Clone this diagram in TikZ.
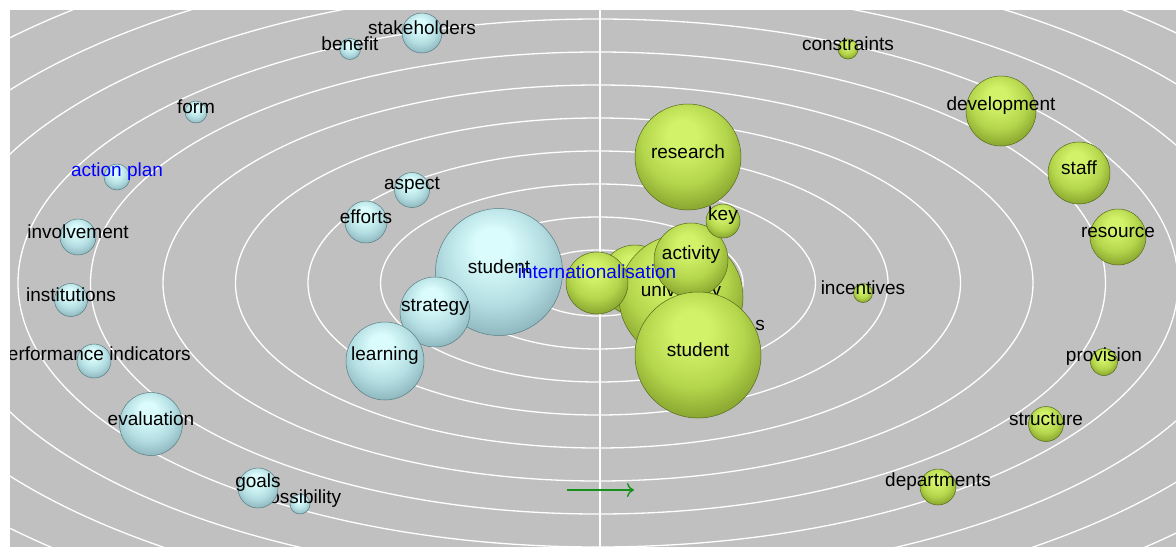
\documentclass[tikz,border=0pt]{standalone}
\usepackage{fontspec}
\newfontfamily\wordfont{Liberation Sans}
\usetikzlibrary{arrows.meta}

\definecolor{panelgray}{HTML}{C0C0C0}
\definecolor{bluehi}{HTML}{DAFCFC}
\definecolor{bluemid}{HTML}{B4DEE2}
\definecolor{bluelo}{HTML}{8AB4BA}
\definecolor{bluerim}{HTML}{587E84}
\definecolor{greenhi}{HTML}{D2F26A}
\definecolor{greenmid}{HTML}{B4D64C}
\definecolor{greenlo}{HTML}{84A02C}
\definecolor{greenrim}{HTML}{566A1E}
\definecolor{arrowgreen}{HTML}{16901C}

\pgfdeclareradialshading{bluesphere}{\pgfpoint{-3bp}{12bp}}{%
  color(0bp)=(bluehi); color(7bp)=(bluehi); color(20bp)=(bluemid);
  color(31bp)=(bluelo); color(37bp)=(bluerim); color(50bp)=(bluerim)}
\pgfdeclareradialshading{greensphere}{\pgfpoint{-3bp}{12bp}}{%
  color(0bp)=(greenhi); color(7bp)=(greenhi); color(20bp)=(greenmid);
  color(31bp)=(greenlo); color(37bp)=(greenrim); color(50bp)=(greenrim)}

\begin{document}
\begin{tikzpicture}[x=1pt,y=-1pt,
  ring/.style={white,line width=1.3pt},
  axis/.style={white,line width=1.4pt},
  word/.style={font=\wordfont\fontsize{19}{21}\selectfont,text=black,inner sep=0pt,anchor=base,yshift=5pt},
  bball/.style={circle,draw=bluerim,line width=0.5pt,shading=bluesphere,inner sep=0pt,minimum size=#1},
  gball/.style={circle,draw=greenrim,line width=0.5pt,shading=greensphere,inner sep=0pt,minimum size=#1}]
\useasboundingbox (0,0) rectangle (1176,547);
\fill[panelgray] (10,10) rectangle (1176,547);
\begin{scope}
\clip (10,10) rectangle (1176,547);
\coordinate (ctr) at (598,283);
\foreach \n in {1,...,12}
  \draw[ring] (ctr) ellipse [x radius=\n*72.5pt, y radius=\n*33pt];
\coordinate (axis-top) at (600,10);
\coordinate (axis-bot) at (600,547);
\draw[axis] (axis-top) -- (axis-bot);

% left group
\node[bball=40pt,label={[word]center:stakeholders}] (stakeholders) at (422,33) {};
\node[bball=21pt,label={[word]center:benefit}] (benefit) at (350,49) {};
\node[bball=22pt,label={[word]center:form}] (form) at (196,112) {};
\node[bball=26pt,label={[word,text=blue]center:action plan}] (actionplan) at (117,177) {};
\node[bball=35pt,label={[word]center:aspect}] (aspect) at (412,190) {};
\node[bball=42pt,label={[word]center:efforts}] (efforts) at (366,222) {};
\node[bball=36pt,label={[word]center:involvement}] (involvement) at (78,237) {};
\node[bball=33pt,label={[word]center:institutions}] (institutions) at (71,300) {};
\node[bball=34pt,label={[word]center:performance indicators}] (perfind) at (94,361) {};
\node[bball=63pt,label={[word]center:evaluation}] (evaluation) at (151,424) {};
\node[bball=20pt,label={[word]center:possibility}] (possibility) at (300,504) {};
\node[bball=40pt,label={[word]center:goals}] (goals) at (258,488) {};
\node[bball=127pt,label={[word]center:student}] (bstudent) at (499,272) {};
\node[bball=70pt,label={[word]center:strategy}] (strategy) at (435,312) {};
\node[bball=78pt,label={[word]center:learning}] (learning) at (385,361) {};

% right group
\node[gball=20pt,label={[word]center:constraints}] (constraints) at (848,49) {};
\node[gball=70pt,label={[word]center:development}] (development) at (1001,111) {};
\node[gball=62pt,label={[word]center:staff}] (staff) at (1079,173) {};
\node[gball=56pt,label={[word]center:resource}] (resource) at (1118,237) {};
\node[gball=19pt,label={[word]center:incentives}] (incentives) at (863,293) {};
\node[gball=27pt,label={[word]center:provision}] (provision) at (1104,362) {};
\node[gball=35pt,label={[word]center:structure}] (structure) at (1046,424) {};
\node[gball=36pt,label={[word]center:departments}] (departments) at (938,487) {};

% centre cluster, back to front
\node[gball=70pt] (gback) at (635,280) {};
\node[word,anchor=base east,yshift=0pt] (gs) at (765,335) {s};
\node[gball=124pt,label={[word]center:university}] (university) at (681,297) {};
\node[gball=62pt] (intern) at (597,283) {};
\node[gball=106pt,label={[word]center:research}] (research) at (688,157) {};
\node[gball=74pt,label={[word]center:activity}] (activity) at (691,260) {};
\node[gball=34pt,label={[word]center:key}] (key) at (723,221) {};
\node[gball=126pt,label={[word]center:student}] (gstudent) at (698,355) {};
\node[word,text=blue] (intern-l) at (intern.center) {internationalisation};

\coordinate (arrow-a) at (567,490);
\coordinate (arrow-b) at (634,490);
\draw[arrowgreen,line width=1.4pt,-{To[length=7pt,width=14pt]}] (arrow-a) -- (arrow-b);
\end{scope}
\end{tikzpicture}
\end{document}
